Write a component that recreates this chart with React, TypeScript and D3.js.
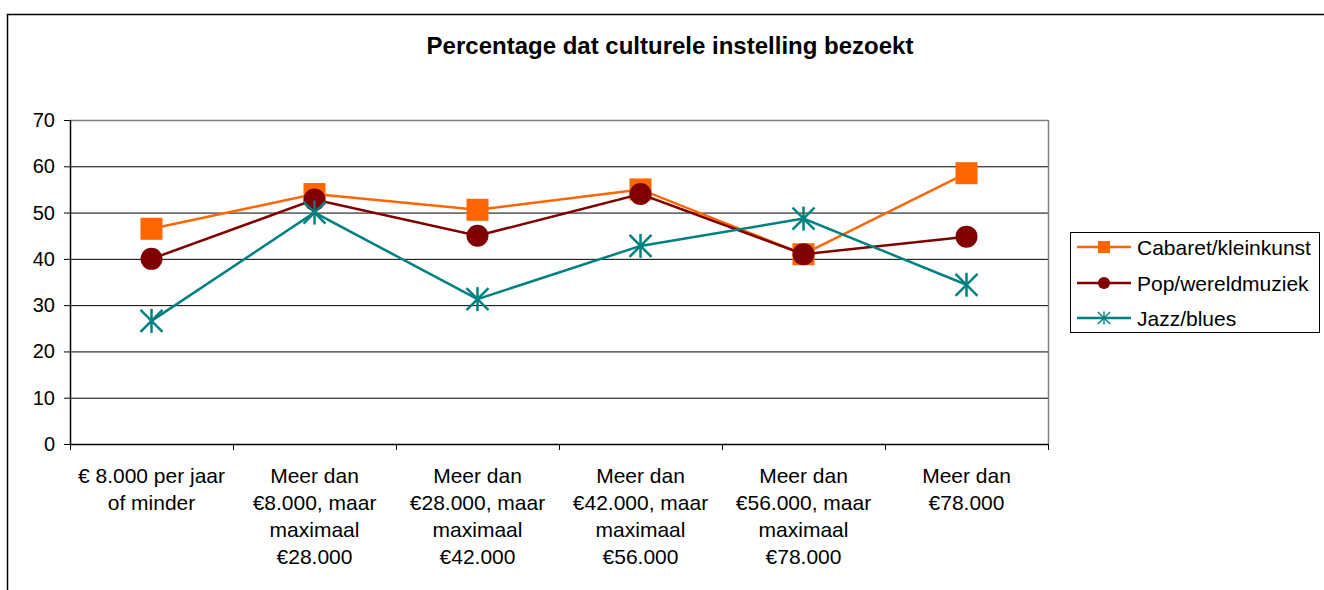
import React from "react";
import * as d3 from "d3";

const categories: string[][] = [
  ["€ 8.000 per jaar", "of minder"],
  ["Meer dan", "€8.000, maar", "maximaal", "€28.000"],
  ["Meer dan", "€28.000, maar", "maximaal", "€42.000"],
  ["Meer dan", "€42.000, maar", "maximaal", "€56.000"],
  ["Meer dan", "€56.000, maar", "maximaal", "€78.000"],
  ["Meer dan", "€78.000"],
];
const cabaret = [46.5, 54, 50.6, 55, 41, 58.5];
const pop = [40, 52.8, 45, 54, 41, 44.8];
const jazz = [26.6, 50, 31.3, 42.8, 48.7, 34.4];
const yTicks = [0, 10, 20, 30, 40, 50, 60, 70];
const seriesNames = ["Cabaret/kleinkunst", "Pop/wereldmuziek", "Jazz/blues"];
const seriesColors = ["#FF6600", "#800000", "#008080"];
const title = "Percentage dat culturele instelling bezoekt";

const W = 1324, H = 590;
const left = 70, right = 1048, top = 120, bottom = 444;

function Marker({ type, x, y, color }: { type: number; x: number; y: number; color: string }) {
  if (type === 0) return <rect x={x - 11} y={y - 11} width={22} height={22} fill={color} />;
  if (type === 1) return <circle cx={x} cy={y} r={11} fill={color} />;
  const s = 11;
  return (
    <g stroke={color} strokeWidth={2.5}>
      <line x1={x - s} y1={y - s} x2={x + s} y2={y + s} />
      <line x1={x - s} y1={y + s} x2={x + s} y2={y - s} />
      <line x1={x} y1={y - s - 1} x2={x} y2={y + s + 1} />
    </g>
  );
}

export default function App() {
  const x = d3.scaleBand<number>().domain(d3.range(categories.length)).range([left, right]);
  const y = d3.scaleLinear().domain([0, 70]).range([bottom, top]);
  const cx = (i: number) => (x(i) as number) + x.bandwidth() / 2;
  const series = [cabaret, pop, jazz];
  const line = d3.line<number>().x((_, i) => cx(i)).y((d) => y(d));
  const font = "Liberation Sans, Arial, sans-serif";
  const legendYs = [247, 283, 318];
  return (
    <svg width={W} height={H} style={{ position: "absolute", left: 0, top: 0 }} fontFamily={font}>
      <rect x={0} y={0} width={W} height={H} fill="#fff" />
      <rect x={7.5} y={14.5} width={W + 20} height={H + 20} fill="none" stroke="#000" strokeWidth={1.5} />
      <text x={670} y={54} textAnchor="middle" fontSize={24} fontWeight="bold">{title}</text>
      {yTicks.map((t) => (
        <g key={t}>
          {t > 0 && t < 70 && <line x1={left} x2={right} y1={y(t) + 0.5} y2={y(t) + 0.5} stroke="#000" strokeWidth={1} />}
          <line x1={left - 6} x2={left} y1={y(t) + 0.5} y2={y(t) + 0.5} stroke="#000" />
          <text x={55} y={y(t) + 7} textAnchor="end" fontSize={20}>{t}</text>
        </g>
      ))}
      <line x1={left} x2={right} y1={top + 0.5} y2={top + 0.5} stroke="#808080" strokeWidth={1.5} />
      <line x1={right + 0.5} x2={right + 0.5} y1={top} y2={bottom} stroke="#808080" strokeWidth={1.5} />
      <line x1={left + 0.5} x2={left + 0.5} y1={top} y2={bottom} stroke="#000" strokeWidth={1.5} />
      <line x1={left} x2={right} y1={bottom + 0.5} y2={bottom + 0.5} stroke="#000" strokeWidth={1.5} />
      {d3.range(categories.length + 1).map((i) => {
        const xx = i < categories.length ? (x(i) as number) : right;
        return <line key={i} x1={xx + 0.5} x2={xx + 0.5} y1={bottom} y2={bottom + 6} stroke="#000" />;
      })}
      {categories.map((lines, i) => (
        <text key={i} x={cx(i)} y={483} textAnchor="middle" fontSize={21}>
          {lines.map((l, j) => (
            <tspan key={j} x={cx(i)} dy={j === 0 ? 0 : 27}>{l}</tspan>
          ))}
        </text>
      ))}
      {series.map((s, k) => (
        <g key={k}>
          <path d={line(s) || ""} fill="none" stroke={seriesColors[k]} strokeWidth={2.5} />
          {s.map((v, i) => (
            <Marker key={i} type={k} x={cx(i)} y={y(v)} color={seriesColors[k]} />
          ))}
        </g>
      ))}
      <rect x={1070.5} y={232.5} width={249} height={100} fill="#fff" stroke="#000" />
      {seriesNames.map((n, k) => (
        <g key={n}>
          <line x1={1077} x2={1131} y1={legendYs[k]} y2={legendYs[k]} stroke={seriesColors[k]} strokeWidth={2.5} />
          <g transform={`translate(1104,${legendYs[k]}) scale(0.55) translate(-1104,${-legendYs[k]})`}>
            <Marker type={k} x={1104} y={legendYs[k]} color={seriesColors[k]} />
          </g>
          <text x={1137} y={legendYs[k] + 8} fontSize={21}>{n}</text>
        </g>
      ))}
    </svg>
  );
}
